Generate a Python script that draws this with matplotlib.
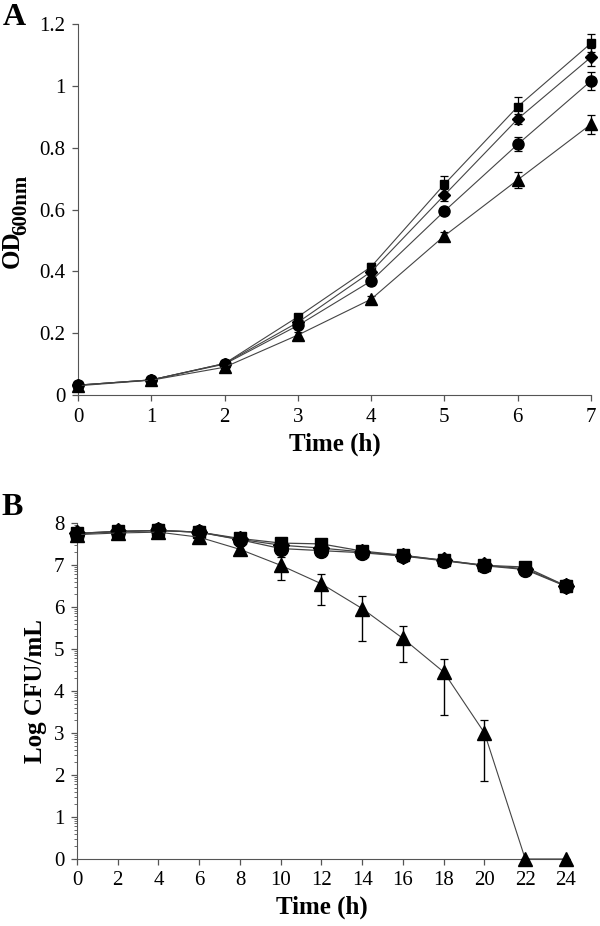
import numpy as np
import matplotlib
matplotlib.use('Agg')
import matplotlib.pyplot as plt

plt.rcParams['font.family'] = ['Liberation Serif', 'DejaVu Serif']

# --- dane: panel A (OD600nm) ---
czas_a = [0, 1, 2, 3, 4, 5, 6, 7]
od_kwadrat = [0.032, 0.049, 0.102, 0.253, 0.415, 0.682, 0.933, 1.138]
od_romb = [0.032, 0.049, 0.102, 0.235, 0.399, 0.647, 0.893, 1.093]
od_kolo = [0.032, 0.049, 0.100, 0.225, 0.369, 0.595, 0.811, 1.016]
od_trojkat = [0.030, 0.048, 0.090, 0.194, 0.310, 0.515, 0.696, 0.876]
err_kwadrat = [0.005, 0.005, 0.008, 0.01, 0.012, 0.027, 0.032, 0.029]
err_romb = [0.005, 0.005, 0.008, 0.01, 0.012, 0.02, 0.015, 0.03]
err_kolo = [0.005, 0.005, 0.008, 0.01, 0.012, 0.01, 0.023, 0.028]
err_trojkat = [0.005, 0.005, 0.008, 0.01, 0.01, 0.012, 0.027, 0.03]

# --- dane: panel B (Log CFU/mL) ---
czas_b = [0, 2, 4, 6, 8, 10, 12, 14, 16, 18, 20, 22, 24]
cfu_kwadrat = [7.75, 7.80, 7.82, 7.78, 7.63, 7.52, 7.50, 7.33, 7.23, 7.11, 6.99, 6.95, 6.50]
cfu_romb = [7.75, 7.80, 7.82, 7.78, 7.61, 7.47, 7.40, 7.31, 7.22, 7.11, 6.99, 6.91, 6.50]
cfu_kolo = [7.74, 7.79, 7.82, 7.78, 7.60, 7.39, 7.34, 7.29, 7.21, 7.10, 6.98, 6.89, 6.49]
cfu_trojkat = [7.72, 7.76, 7.78, 7.66, 7.37, 6.99, 6.55, 5.96, 5.25, 4.45, 3.00, 0.0, 0.0]
err_tr_dol = [0.05, 0.03, 0.03, 0.05, 0.07, 0.34, 0.51, 0.77, 0.55, 1.03, 1.14, 0.0, 0.0]
err_tr_gora = [0.05, 0.03, 0.03, 0.05, 0.07, 0.21, 0.24, 0.30, 0.30, 0.32, 0.31, 0.0, 0.0]
err_b = [0.05, 0.03, 0.03, 0.04, 0.04, 0.05, 0.05, 0.05, 0.05, 0.05, 0.04, 0.06, 0.04]

kolor_linii = '#444444'
kolor_osi = '#555555'

fig = plt.figure(figsize=(6, 9.26), dpi=100)
W, H = 600.0, 926.0

# Wykres A
ax1 = fig.add_axes([0.130, 0.5734, 0.855, 0.4006])
serie_a = [(od_kwadrat, err_kwadrat, 's', 6.0),
           (od_romb, err_romb, 'D', 6.5),
           (od_kolo, err_kolo, 'o', 8.0),
           (od_trojkat, err_trojkat, '^', 8.0)]
for y, e, m, ms in serie_a:
    ax1.errorbar(czas_a, y, yerr=e, fmt='-', marker=m, markersize=ms, color='black',
                 mfc='black', mec='black', ecolor='black', elinewidth=0.9, capsize=3,
                 capthick=0.9, lw=0.8, clip_on=False, zorder=3)
ax1.set_xlim(0, 7)
ax1.set_ylim(0, 1.2)
ax1.set_xticks(range(0, 8))
ax1.set_yticks([0, 0.2, 0.4, 0.6, 0.8, 1.0, 1.2])
ax1.set_yticklabels(['0', '0.2', '0.4', '0.6', '0.8', '1', '1.2'])
ax1.set_xlabel('Time (h)', fontsize=18, fontweight='bold', labelpad=4)
# OD z indeksem dolnym - dwa osobne teksty (obrocone)
fig.text(19 / W, 1 - 268 / H, 'OD', fontsize=18, fontweight='bold', rotation=90,
         rotation_mode='anchor', ha='left', va='baseline')
fig.text(26 / W, 1 - 235 / H, '600nm', fontsize=15, fontweight='bold', rotation=90,
         rotation_mode='anchor', ha='left', va='baseline')

# Wykres B
ax2 = fig.add_axes([0.1283, 0.0724, 0.815, 0.3629])
serie_b = [(cfu_kwadrat, err_b, 's', 8.5),
           (cfu_romb, err_b, 'D', 8.5),
           (cfu_kolo, err_b, 'o', 10.0)]
for y, e, m, ms in serie_b:
    ax2.errorbar(czas_b, y, yerr=e, fmt='-', marker=m, markersize=ms, color='black',
                 mfc='black', mec='black', ecolor='black', elinewidth=0.9, capsize=3,
                 capthick=0.9, lw=0.9, clip_on=False, zorder=3)
ax2.errorbar(czas_b, cfu_trojkat, yerr=[err_tr_dol, err_tr_gora], fmt='-', marker='^',
             markersize=9.5, color='black', mfc='black', mec='black', ecolor='black',
             elinewidth=1.0, capsize=3, capthick=0.9, lw=0.8, clip_on=False, zorder=3)
ax2.set_xlim(0, 24)
ax2.set_ylim(0, 8)
ax2.set_xticks(range(0, 25, 2))
ax2.set_yticks(range(0, 9))
ax2.set_yticks([k + np.log10(m) for k in range(8) for m in range(2, 10)], minor=True)
ax2.set_xlabel('Time (h)', fontsize=18, fontweight='bold', labelpad=4)
ax2.set_ylabel('Log CFU/mL', fontsize=18, fontweight='bold')
ax2.yaxis.set_label_coords(-0.062, 0.5)

for ax in (ax1, ax2):
    for l in ax.get_lines():
        if l.get_linestyle() == '-':
            l.set_color(kolor_linii)
    ax.spines['top'].set_visible(False)
    ax.spines['right'].set_visible(False)
    ax.spines['left'].set_color(kolor_osi)
    ax.spines['bottom'].set_color(kolor_osi)
    ax.tick_params(axis='both', which='major', direction='out', length=4, width=0.9,
                   color=kolor_osi, labelsize=15, pad=5)
    ax.tick_params(axis='y', which='minor', direction='out', length=2.5, width=0.6,
                   color=kolor_osi)
    ax.tick_params(axis='x', which='minor', length=0)

fig.text(0.005, 0.997, 'A', fontsize=23, fontweight='bold', va='top', ha='left')
fig.text(0.003, 0.468, 'B', fontsize=23, fontweight='bold', va='top', ha='left')

fig.savefig('out.png', dpi=100)
